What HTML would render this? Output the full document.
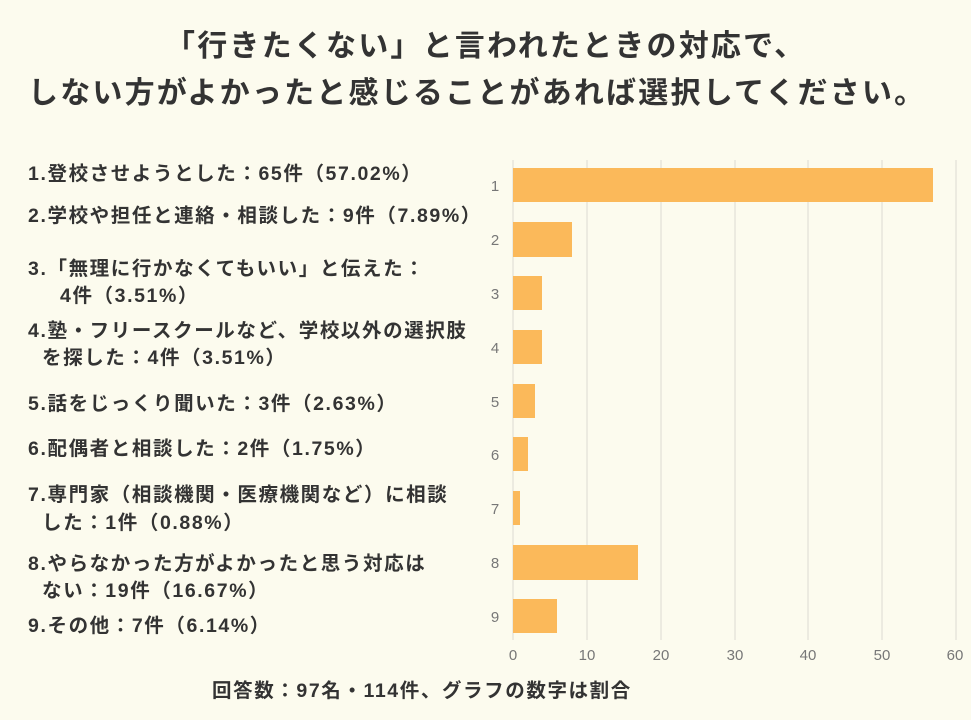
<!DOCTYPE html>
<html><head><meta charset="utf-8"><style>
html,body{margin:0;padding:0;background:#fcfbee;}
body{width:971px;height:715px;overflow:hidden;font-family:"Liberation Sans","Noto Sans CJK JP",sans-serif;}
</style></head><body>
<svg width="971" height="715" xmlns="http://www.w3.org/2000/svg" style="font-family:'Liberation Sans','Noto Sans CJK JP',sans-serif">
<rect width="971" height="715" fill="#fcfbee"/>
<g font-weight="bold" fill="#333" font-size="30" letter-spacing="2.2">
<text x="165" y="56">「行きたくない」と言われたときの対応で、</text>
<text x="28" y="103">しない方がよかったと感じることがあれば選択してください。</text>
</g>
<g stroke="#e2e0d6" stroke-width="1.2">
<line x1="513" y1="160" x2="513" y2="640"/>
<line x1="587" y1="160" x2="587" y2="640"/>
<line x1="661" y1="160" x2="661" y2="640"/>
<line x1="735" y1="160" x2="735" y2="640"/>
<line x1="808" y1="160" x2="808" y2="640"/>
<line x1="882" y1="160" x2="882" y2="640"/>
<line x1="956" y1="160" x2="956" y2="640"/>
</g>
<g fill="#fbb95a">
<rect x="513" y="168" width="420" height="34"/>
<rect x="513" y="222" width="59" height="35"/>
<rect x="513" y="276" width="29" height="34"/>
<rect x="513" y="330" width="29" height="34"/>
<rect x="513" y="384" width="22" height="34"/>
<rect x="513" y="437" width="15" height="34"/>
<rect x="513" y="491" width="7" height="34"/>
<rect x="513" y="545" width="125" height="35"/>
<rect x="513" y="599" width="44" height="34"/>
</g>
<g fill="#777" font-size="15" text-anchor="middle">
<text x="495" y="191">1</text><text x="495" y="245">2</text><text x="495" y="299">3</text>
<text x="495" y="353">4</text><text x="495" y="407">5</text><text x="495" y="460">6</text>
<text x="495" y="514">7</text><text x="495" y="568">8</text><text x="495" y="622">9</text>
<text x="513" y="660">0</text><text x="587" y="660">10</text><text x="661" y="660">20</text>
<text x="735" y="660">30</text><text x="808" y="660">40</text><text x="882" y="660">50</text><text x="955" y="660">60</text>
</g>
<g fill="#333" font-size="19.5" font-weight="bold" letter-spacing="1.6">
<text x="28" y="180">1.登校させようとした：65件（57.02%）</text>
<text x="28" y="222">2.学校や担任と連絡・相談した：9件（7.89%）</text>
<text x="28" y="275">3.「無理に行かなくてもいい」と伝えた：</text>
<text x="60" y="302">4件（3.51%）</text>
<text x="28" y="337">4.塾・フリースクールなど、学校以外の選択肢</text>
<text x="42" y="364">を探した：4件（3.51%）</text>
<text x="28" y="410">5.話をじっくり聞いた：3件（2.63%）</text>
<text x="28" y="455">6.配偶者と相談した：2件（1.75%）</text>
<text x="28" y="501">7.専門家（相談機関・医療機関など）に相談</text>
<text x="42" y="529">した：1件（0.88%）</text>
<text x="28" y="570">8.やらなかった方がよかったと思う対応は</text>
<text x="42" y="597">ない：19件（16.67%）</text>
<text x="28" y="632">9.その他：7件（6.14%）</text>
<text x="212" y="697">回答数：97名・114件、グラフの数字は割合</text>
</g>
</svg>
</body></html>
